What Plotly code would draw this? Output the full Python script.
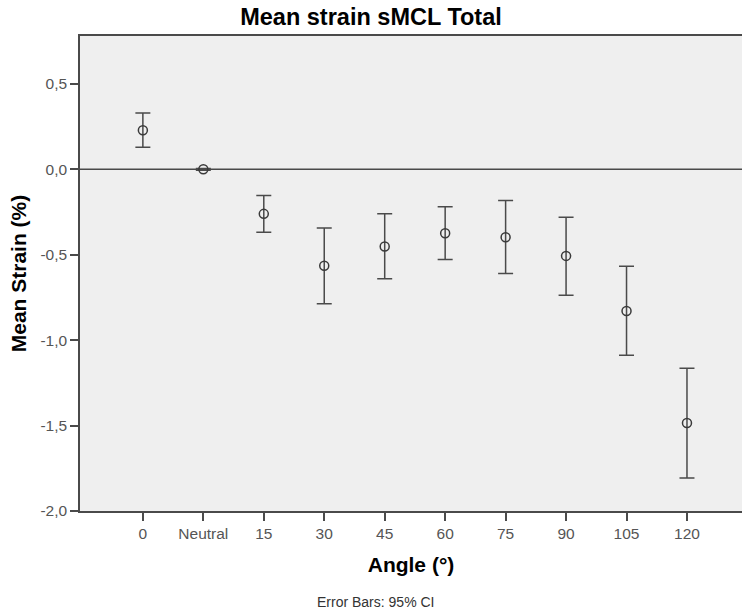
import plotly.graph_objects as go

angles = ["0", "Neutral", "15", "30", "45", "60", "75", "90", "105", "120"]
mean_strain = [0.228, 0.0, -0.261, -0.565, -0.452, -0.374, -0.398, -0.507, -0.829, -1.485]
ci_upper = [0.329, 0.005, -0.154, -0.343, -0.261, -0.220, -0.183, -0.281, -0.567, -1.164]
ci_lower = [0.129, -0.005, -0.368, -0.787, -0.641, -0.528, -0.610, -0.737, -1.088, -1.807]

y_tickvals = [0.5, 0.0, -0.5, -1.0, -1.5, -2.0]
y_ticktext = ["0,5", "0,0", "-0,5", "-1,0", "-1,5", "-2,0"]

line_col = "#4a4a4a"
font_fam = "Liberation Sans, Arial, sans-serif"

err_plus = [u - m for u, m in zip(ci_upper, mean_strain)]
err_minus = [m - l for m, l in zip(mean_strain, ci_lower)]

fig = go.Figure()

fig.add_trace(
    go.Scatter(
        x=angles,
        y=mean_strain,
        mode="markers",
        marker=dict(symbol="circle-open", size=9, color="#3a3a3a", line=dict(width=1.5, color="#3a3a3a")),
        error_y=dict(
            type="data",
            symmetric=False,
            array=err_plus,
            arrayminus=err_minus,
            color=line_col,
            thickness=1.5,
            width=7.5,
        ),
        showlegend=False,
    )
)

# reference line at zero
fig.add_hline(y=0, line=dict(color=line_col, width=1.5), layer="below")

fig.update_layout(
    width=742,
    height=612,
    paper_bgcolor="white",
    plot_bgcolor="#efefef",
    margin=dict(l=80, r=0, t=36, b=101),
    title=dict(
        text="<b>Mean strain sMCL Total</b>",
        x=0.5,
        xanchor="center",
        y=1 - 17 / 612,
        yanchor="middle",
        font=dict(family=font_fam, size=23.5, color="black"),
    ),
    font=dict(family=font_fam),
    showlegend=False,
)

fig.update_xaxes(
    type="category",
    range=[-1.04, 9.91],
    showgrid=False,
    zeroline=False,
    showline=True,
    linecolor=line_col,
    linewidth=1.5,
    mirror=True,
    ticks="outside",
    ticklen=8,
    tickwidth=1.5,
    tickcolor=line_col,
    tickfont=dict(family=font_fam, size=15.5, color="#555555"),
    title=dict(text="<b>Angle (°)</b>", font=dict(family=font_fam, size=21, color="black"), standoff=16),
)

fig.update_yaxes(
    range=[-2.0, 0.78],
    tickvals=y_tickvals,
    ticktext=y_ticktext,
    showgrid=False,
    zeroline=False,
    showline=True,
    linecolor=line_col,
    linewidth=1.5,
    ticks="outside",
    ticklen=8,
    tickwidth=1.5,
    tickcolor=line_col,
    tickfont=dict(family=font_fam, size=15.5, color="#555555"),
    title=dict(text="<b>Mean Strain (%)</b>", font=dict(family=font_fam, size=21, color="black"), standoff=8),
)

# footnote centred on the whole figure (x~375px)
fig.add_annotation(
    text="Error Bars: 95% CI",
    x=(375 - 80) / 662,
    xref="paper",
    y=-91 / 475,
    yref="paper",
    yanchor="middle",
    xanchor="center",
    showarrow=False,
    font=dict(family=font_fam, size=14, color="#333333"),
)

fig.write_html(
    "out.html",
    config={"displayModeBar": False},
    post_script="document.body.style.margin='0px';",
)
